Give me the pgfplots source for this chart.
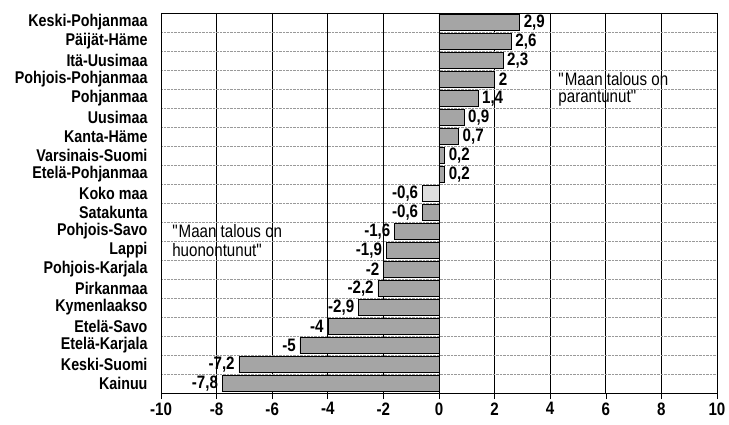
\documentclass[border=0pt]{standalone}
\usepackage{pgfplots}
\pgfplotsset{compat=1.18}
\usepackage{fontspec}
\setmainfont{Liberation Sans}[FakeStretch=0.84]
\definecolor{barfill}{RGB}{165,165,165}
\definecolor{barlight}{RGB}{222,222,222}
\newcommand{\lblfont}{\fontsize{17pt}{20pt}\selectfont}
\newcommand{\valfont}{\fontsize{18pt}{20pt}\selectfont}
\begin{document}
\begin{tikzpicture}
\begin{axis}[
    at={(0,0)}, anchor=south west,
    scale only axis, width=556pt, height=380pt,
    xbar, bar width=16pt, bar shift=0pt,
    xmin=-10, xmax=10, xtick={-10,-8,...,10},
    ymin=-0.5, ymax=19.5, y dir=reverse,
    ytick={0,...,19},
    yticklabels={Keski-Pohjanmaa, Päijät-Häme, Itä-Uusimaa, Pohjois-Pohjanmaa,
        Pohjanmaa, Uusimaa, Kanta-Häme, Varsinais-Suomi, Etelä-Pohjanmaa,
        Koko maa, Satakunta, Pohjois-Savo, Lappi, Pohjois-Karjala, Pirkanmaa,
        Kymenlaakso, Etelä-Savo, Etelä-Karjala, Keski-Suomi, Kainuu},
    minor ytick={0.5,1.5,...,18.5},
    minor tick length=0pt,
    yminorgrids, minor grid style={densely dotted, black!40, line width=0.5pt},
    xmajorgrids, major grid style={black, line width=0.8pt},
    axis line style={black, line width=0.8pt},
    xtick pos=bottom, xtick align=outside, major tick length=6pt,
    tick style={black, line width=0.6pt},
    ytick style={draw=none},
    yticklabel style={font=\lblfont\bfseries, xshift=-4pt},
    xticklabel style={font=\valfont\bfseries},
    /pgf/number format/assume math mode=true,
    /pgf/number format/use comma,
    nodes near coords,
    nodes near coords style={font=\valfont\bfseries, inner sep=4pt, text=black},
]
\addplot[draw=black, line width=0.4pt, fill=barfill] coordinates {
    (2.9,0) (2.6,1) (2.3,2) (2,3) (1.4,4) (0.9,5) (0.7,6) (0.2,7) (0.2,8)
    (-0.6,10) (-1.6,11) (-1.9,12) (-2,13) (-2.2,14) (-2.9,15) (-4,16)
    (-5,17) (-7.2,18) (-7.8,19)
};
\addplot[draw=black, line width=0.4pt, fill=barlight] coordinates {
    (-0.6,9)
};
\node[anchor=west, font=\valfont, inner sep=0pt] at (axis cs:4.29,3) {\textquotedbl Maan talous on};
\node[anchor=west, font=\valfont, inner sep=0pt] at (axis cs:4.29,4) {parantunut\textquotedbl};
\node[anchor=west, font=\valfont, inner sep=0pt] at (axis cs:-9.6,11) {\textquotedbl Maan talous on};
\node[anchor=west, font=\valfont, inner sep=0pt] at (axis cs:-9.6,12) {huonontunut\textquotedbl};
\end{axis}
\pgfresetboundingbox
\path[use as bounding box] (-161pt,-32pt) rectangle (568pt,393pt);
\end{tikzpicture}
\end{document}
